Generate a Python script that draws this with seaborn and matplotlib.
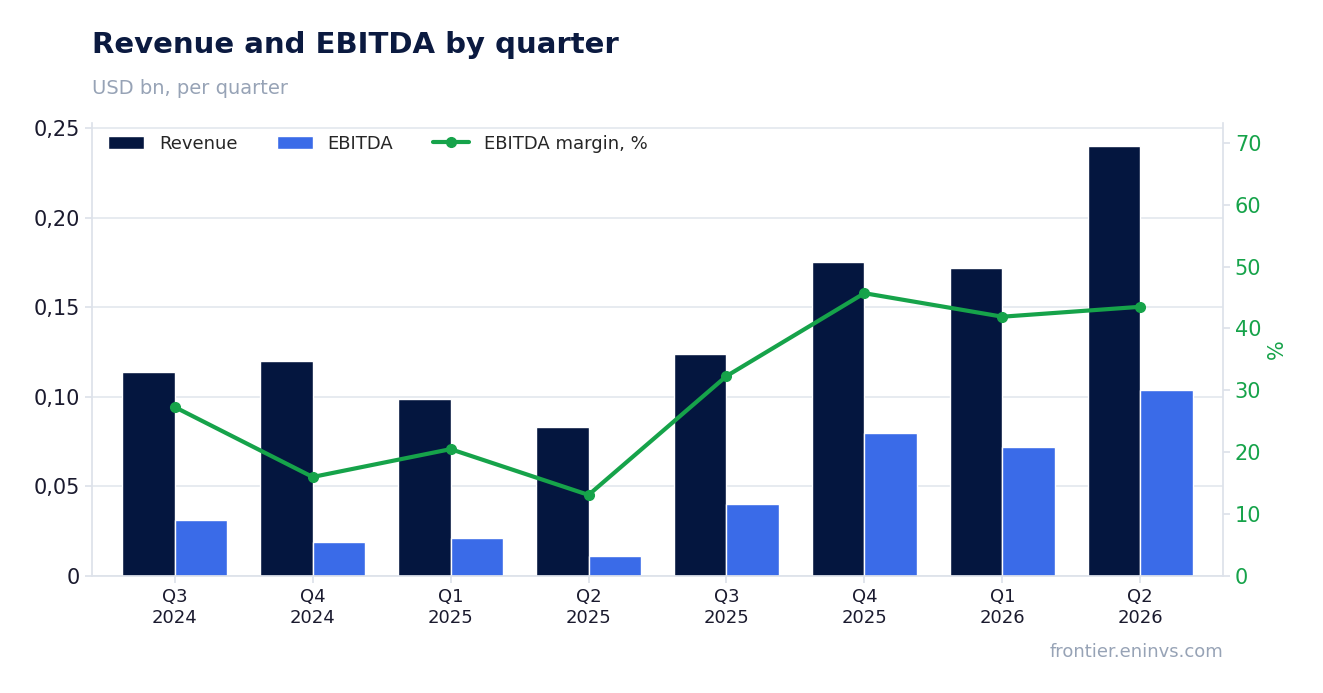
import matplotlib
matplotlib.use("Agg")
import matplotlib.pyplot as plt
import seaborn as sns
import pandas as pd
import numpy as np
from matplotlib.ticker import FuncFormatter

quarters = ["Q3\n2024", "Q4\n2024", "Q1\n2025", "Q2\n2025", "Q3\n2025", "Q4\n2025", "Q1\n2026", "Q2\n2026"]
revenue = [0.114, 0.120, 0.099, 0.083, 0.124, 0.175, 0.172, 0.240]
ebitda = [0.031, 0.019, 0.021, 0.011, 0.040, 0.080, 0.072, 0.104]
margin = [27.3, 16.0, 20.5, 13.1, 32.3, 45.7, 41.9, 43.5]

sns.set_theme(style="white")
plt.rcParams['font.family'] = ['DejaVu Sans']

df = pd.DataFrame({"q": quarters * 2,
                   "v": revenue + ebitda,
                   "s": ["Revenue"] * 8 + ["EBITDA"] * 8})

fig = plt.figure(figsize=(13.23, 6.93), dpi=100)
ax = fig.add_axes([92/1323, 1-576/693, (1223-92)/1323, (576-123)/693])
sns.barplot(data=df, x="q", y="v", hue="s", palette=["#04163f", "#3a6be8"],
            width=0.76, saturation=1, ax=ax)
ax.set_ylim(0, 0.2528)
ax.set_xlim(-0.6, 7.6)
ax.set_yticks([0, 0.05, 0.10, 0.15, 0.20, 0.25])
ax.yaxis.set_major_formatter(FuncFormatter(lambda v, p: "0" if v == 0 else f"{v:.2f}".replace(".", ",")))
ax.set_xlabel(""); ax.set_ylabel("")
ax.grid(axis="y", color="#e3e7ee", lw=1.2)
ax.set_axisbelow(True)
for s in ["top", "right"]:
    ax.spines[s].set_visible(False)
for s in ["left", "bottom"]:
    ax.spines[s].set_color("#dde2ea")
ax.tick_params(axis="y", labelsize=15, colors="#1a1a2e", left=True, length=5, color="#dde2ea")
ax.tick_params(axis="x", labelsize=13, colors="#1a1a2e", bottom=True, length=5, color="#dde2ea")

ax2 = ax.twinx()
ax2.plot(np.arange(8), margin, color="#16a34a", lw=3, marker="o", ms=7, label="EBITDA margin, %")
ax2.set_ylim(0, 73.2)
ax2.set_yticks(range(0, 71, 10))
ax2.tick_params(axis="y", labelsize=15, colors="#16a34a", length=5, color="#dde2ea")
ax2.set_ylabel("%", color="#16a34a", fontsize=15)
for s in ["top", "left", "bottom"]:
    ax2.spines[s].set_visible(False)
ax2.spines["right"].set_color("#dde2ea")

h1, l1 = ax.get_legend_handles_labels()
h2, l2 = ax2.get_legend_handles_labels()
ax.legend_.remove()
ax2.legend(h1 + h2, l1 + l2, loc="upper left", ncol=3, frameon=False, fontsize=13,
           bbox_to_anchor=(0, 1.01), columnspacing=2.2)

fig.text(92/1323, 1-45/693, "Revenue and EBITDA by quarter", fontsize=21, weight="bold", color="#0b1a40", va="center")
fig.text(92/1323, 1-88/693, "USD bn, per quarter", fontsize=14, color="#97a3b6", va="center")
fig.text(1223/1323, 1-652/693, "frontier.eninvs.com", fontsize=13, color="#97a3b6", ha="right", va="center")
fig.savefig("out.png", dpi=100)
